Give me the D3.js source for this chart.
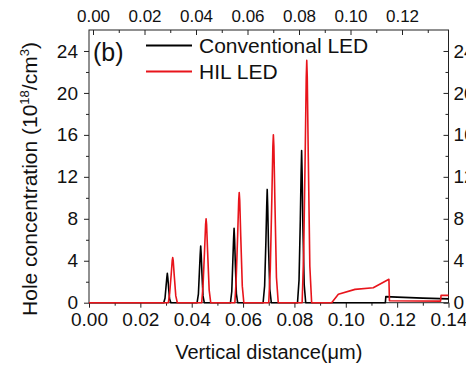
<!DOCTYPE html>
<html>
<head>
<meta charset="utf-8">
<script src="https://cdn.jsdelivr.net/npm/d3@7"></script>
<style>
  html, body { margin: 0; padding: 0; background: #fff; }
  svg { display: block; font-family: "Liberation Sans", Arial, sans-serif; }
</style>
</head>
<body>
<svg id="chart" width="466" height="366"></svg>
<script>
// Hole concentration profiles (units of 1e18 cm^-3) along the vertical distance (µm)
const conventionalLED = [
  [0.0000, 0], [0.0291, 0],
  [0.0296, 0.42], [0.0300, 1.54], [0.0303, 2.38], [0.0305, 2.8], [0.0307, 2.38], [0.0310, 1.40], [0.0314, 0.34], [0.0319, 0],
  [0.0421, 0],
  [0.0426, 0.81], [0.0430, 2.97], [0.0433, 4.59], [0.0435, 5.4], [0.0437, 4.59], [0.0440, 2.70], [0.0444, 0.65], [0.0449, 0],
  [0.0551, 0],
  [0.0556, 1.07], [0.0560, 3.91], [0.0563, 6.04], [0.0565, 7.1], [0.0567, 6.04], [0.0570, 3.55], [0.0574, 0.85], [0.0579, 0],
  [0.0678, 0],
  [0.0684, 1.62], [0.0689, 5.94], [0.0692, 9.18], [0.0694, 10.8], [0.0696, 9.18], [0.0699, 5.40], [0.0704, 1.30], [0.0710, 0],
  [0.0812, 0],
  [0.0818, 2.18], [0.0823, 7.98], [0.0826, 12.33], [0.0828, 14.5], [0.0830, 12.33], [0.0833, 7.25], [0.0838, 1.74], [0.0844, 0],
  [0.1154, 0], [0.1156, 0.58], [0.1200, 0.53], [0.1300, 0.44], [0.1400, 0.36]
];

const hilLED = [
  [0.0000, 0], [0.0309, 0],
  [0.0314, 0.86], [0.0320, 2.67], [0.0324, 4.00], [0.0326, 4.3], [0.0328, 4.00], [0.0332, 2.58], [0.0338, 0.65], [0.0344, 0],
  [0.0439, 0],
  [0.0444, 1.60], [0.0450, 4.96], [0.0454, 7.44], [0.0456, 8.0], [0.0458, 7.44], [0.0462, 4.80], [0.0468, 1.20], [0.0474, 0],
  [0.0568, 0],
  [0.0573, 2.10], [0.0579, 6.51], [0.0583, 9.77], [0.0585, 10.5], [0.0587, 9.77], [0.0591, 6.30], [0.0597, 1.58], [0.0603, 0],
  [0.0700, 0],
  [0.0706, 3.20], [0.0712, 9.92], [0.0716, 14.88], [0.0718, 16.0], [0.0720, 14.88], [0.0724, 9.60], [0.0730, 2.40], [0.0737, 0],
  [0.0830, 0],
  [0.0836, 4.62], [0.0842, 14.32], [0.0846, 21.48], [0.0848, 23.1], [0.0850, 21.48], [0.0854, 13.86], [0.0860, 3.47], [0.0867, 0],
  [0.0945, 0], [0.0971, 0.80], [0.1036, 1.27], [0.1107, 1.43], [0.1168, 2.23], [0.1170, 0.18],
  [0.1369, 0.15], [0.1371, 0.70], [0.1400, 0.70]
];

const seriesNames = ["Conventional LED", "HIL LED"];
const seriesColors = ["#000000", "#e8141b"];

const xTicks = [0.00, 0.02, 0.04, 0.06, 0.08, 0.10, 0.12, 0.14];
const xMinorTicks = [0.01, 0.03, 0.05, 0.07, 0.09, 0.11, 0.13];
const topTicks = [0.00, 0.02, 0.04, 0.06, 0.08, 0.10, 0.12];
const topMinorTicks = [0.01, 0.03, 0.05, 0.07, 0.09, 0.11, 0.13];
const yTicks = [0, 4, 8, 12, 16, 20, 24];
const yMinorTicks = [2, 6, 10, 14, 18, 22];

const frame = { left: 89, right: 448.5, top: 30, bottom: 302.7 };

const svg = d3.select("#chart");

const x = d3.scaleLinear().domain([0, 0.14]).range([frame.left, frame.right]);
const xTop = d3.scaleLinear().domain([0, 0.14]).range([93, 453.5]);
const y = d3.scaleLinear().domain([0, 26]).range([frame.bottom, frame.top]);

const fmt = d3.format(".2f");

function styleAxis(g) {
  g.select(".domain").remove();
  g.selectAll(".tick line").attr("stroke", "#222").attr("stroke-width", 1);
  g.selectAll(".tick text").attr("fill", "#111").attr("font-family", "Liberation Sans, Arial, sans-serif");
}

// bottom axis (ticks outward)
svg.append("g").attr("transform", `translate(0,${frame.bottom})`)
  .call(d3.axisBottom(x).tickValues(xTicks).tickFormat(fmt).tickSize(5).tickPadding(5))
  .call(styleAxis)
  .call(g => g.selectAll(".tick text").attr("font-size", 19));
svg.append("g").attr("transform", `translate(0,${frame.bottom})`)
  .call(d3.axisBottom(x).tickValues(xMinorTicks).tickFormat("").tickSize(3))
  .call(styleAxis);

// top axis (ticks inward)
svg.append("g").attr("transform", `translate(0,${frame.top})`)
  .call(d3.axisTop(xTop).tickValues(topTicks).tickFormat(fmt).tickSize(-5).tickPadding(8))
  .call(styleAxis)
  .call(g => g.selectAll(".tick text").attr("font-size", 17));
svg.append("g").attr("transform", `translate(0,${frame.top})`)
  .call(d3.axisTop(xTop).tickValues(topMinorTicks).tickFormat("").tickSize(-3))
  .call(styleAxis);

// left axis (ticks outward)
svg.append("g").attr("transform", `translate(${frame.left},0)`)
  .call(d3.axisLeft(y).tickValues(yTicks).tickFormat(d3.format("d")).tickSize(5).tickPadding(6))
  .call(styleAxis)
  .call(g => g.selectAll(".tick text").attr("font-size", 19));
svg.append("g").attr("transform", `translate(${frame.left},0)`)
  .call(d3.axisLeft(y).tickValues(yMinorTicks).tickFormat("").tickSize(3))
  .call(styleAxis);

// right axis (ticks inward)
svg.append("g").attr("transform", `translate(${frame.right},0)`)
  .call(d3.axisRight(y).tickValues(yTicks).tickFormat(d3.format("d")).tickSize(-5).tickPadding(5))
  .call(styleAxis)
  .call(g => g.selectAll(".tick text").attr("font-size", 19));
svg.append("g").attr("transform", `translate(${frame.right},0)`)
  .call(d3.axisRight(y).tickValues(yMinorTicks).tickFormat("").tickSize(-3))
  .call(styleAxis);

// plot frame
svg.append("rect")
  .attr("x", frame.left).attr("y", frame.top)
  .attr("width", frame.right - frame.left).attr("height", frame.bottom - frame.top)
  .attr("fill", "none").attr("stroke", "#222").attr("stroke-width", 1);

// curves
const line = d3.line().x(d => x(d[0])).y(d => y(d[1]));
[conventionalLED, hilLED].forEach((data, i) => {
  svg.append("path")
    .datum(data)
    .attr("d", line)
    .attr("fill", "none")
    .attr("stroke", seriesColors[i])
    .attr("stroke-width", 1.6)
    .attr("stroke-linejoin", "round");
});

// panel label
svg.append("text").attr("x", 93).attr("y", 61)
  .attr("font-size", 25).attr("fill", "#111").text("(b)");

// legend
const legend = svg.append("g");
seriesNames.forEach((name, i) => {
  const ly = 45.5 + i * 26;
  legend.append("line")
    .attr("x1", 146).attr("x2", 192).attr("y1", ly).attr("y2", ly)
    .attr("stroke", seriesColors[i]).attr("stroke-width", 1.8);
  legend.append("text")
    .attr("x", 199).attr("y", ly + 7.8)
    .attr("font-size", 21).attr("fill", "#111").text(name);
});

// axis titles
svg.append("text")
  .attr("x", (frame.left + frame.right) / 2).attr("y", 359)
  .attr("text-anchor", "middle").attr("font-size", 20).attr("fill", "#111")
  .text("Vertical distance(\u03BCm)");

const yTitle = svg.append("text")
  .attr("transform", "translate(37,179) rotate(-90)")
  .attr("text-anchor", "middle").attr("font-size", 21).attr("fill", "#111");
yTitle.append("tspan").text("Hole concentration (10");
yTitle.append("tspan").attr("font-size", 13).attr("dy", -8).text("18");
yTitle.append("tspan").attr("dy", 8).text("/cm");
yTitle.append("tspan").attr("font-size", 13).attr("dy", -8).text("3");
yTitle.append("tspan").attr("dy", 8).text(")");
</script>
</body>
</html>
